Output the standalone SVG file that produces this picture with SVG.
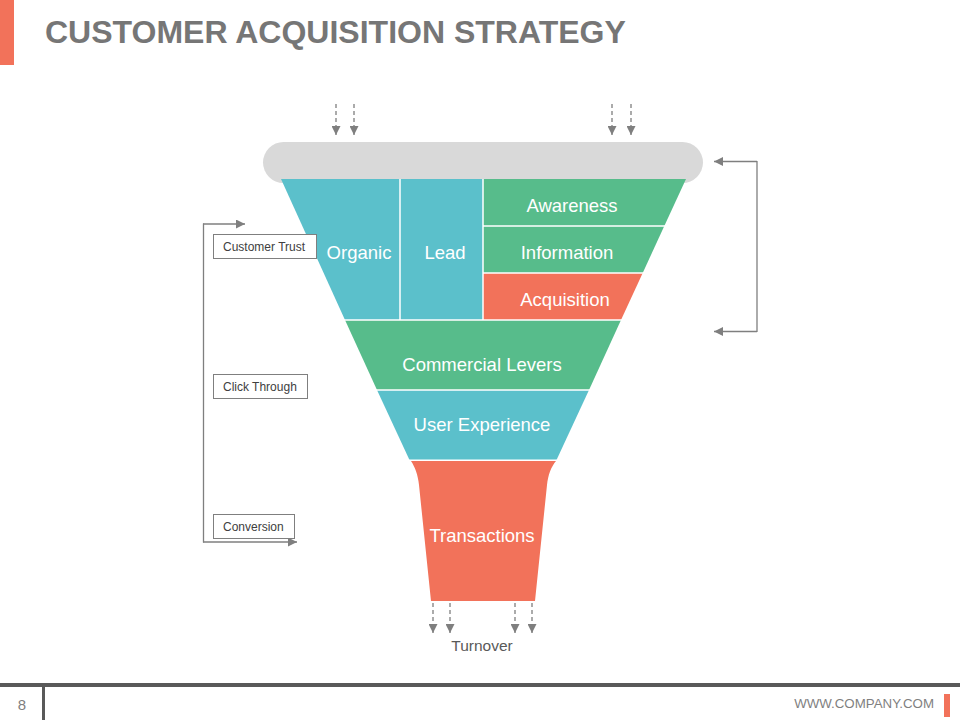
<svg xmlns="http://www.w3.org/2000/svg" width="960" height="720" viewBox="0 0 960 720">
<defs>
<style>
.seg{stroke:none}
.teal{fill:#5BC0CB}
.green{fill:#57BC8B}
.orange{fill:#F2725A}
.lbl{font-family:"Liberation Sans",Arial,sans-serif;font-size:18.5px;fill:#FFFFFF;text-anchor:middle}
.box{fill:#FFFFFF;stroke:#7F7F7F;stroke-width:1}
.boxt{font-family:"Liberation Sans",Arial,sans-serif;font-size:12px;fill:#404040}
.conn{fill:none;stroke:#7F7F7F;stroke-width:1.3}
.dash{stroke-dasharray:4 3}
.sep{stroke:#FFFFFF;stroke-width:1.5;fill:none}
</style>
<marker id="ah" viewBox="0 0 10 10" refX="10" refY="5" markerWidth="9" markerHeight="9" markerUnits="userSpaceOnUse" orient="auto">
<path d="M0,0 L10,5 L0,10 z" fill="#7F7F7F"/>
</marker>
</defs>
<rect width="960" height="720" fill="#FFFFFF"/>
<!-- header -->
<rect x="0" y="0" width="14" height="65" fill="#F2725A"/>
<text x="45" y="43" font-family="'Liberation Sans',Arial,sans-serif" font-size="32" font-weight="bold" fill="#767676">CUSTOMER ACQUISITION STRATEGY</text>
<!-- top bar -->
<g id="top-bar">
<rect x="263" y="142" width="440" height="41" rx="20.5" ry="20.5" fill="#D9D9D9"/>
</g>
<g id="organic">
<polygon class="seg teal" points="281,179 400,179 400,320 345,320"/>
<text class="lbl" x="359" y="258.5">Organic</text>
</g>
<g id="lead">
<polygon class="seg teal" points="400,179 483,179 483,320 400,320"/>
<text class="lbl" x="445" y="258.5">Lead</text>
</g>
<g id="awareness">
<polygon class="seg green" points="483,179 686,179 664.3,226 483,226"/>
<text class="lbl" x="572" y="211.5">Awareness</text>
</g>
<g id="information">
<polygon class="seg green" points="483,226 664.3,226 642.7,273 483,273"/>
<text class="lbl" x="567" y="258.5">Information</text>
</g>
<g id="acquisition">
<polygon class="seg orange" points="483,273 642.7,273 621,320 483,320"/>
<text class="lbl" x="565" y="305.5">Acquisition</text>
</g>
<g id="commercial-levers">
<polygon class="seg green" points="345,320 621,320 589,390 377,390"/>
<text class="lbl" x="482" y="370.5">Commercial Levers</text>
</g>
<g id="user-experience">
<polygon class="seg teal" points="377,390 589,390 556.5,460 409.5,460"/>
<text class="lbl" x="482" y="430.5">User Experience</text>
</g>
<g id="transactions">
<path class="seg orange" d="M411,461 L556,461 C551,467 548,475 547,485 L535,601 L431,601 L419,485 C418,475 415,467 411,461 Z"/>
<text class="lbl" x="482" y="541.5">Transactions</text>
</g>
<g id="separators">
<line class="sep" x1="400" y1="179" x2="400" y2="320"/>
<line class="sep" x1="483" y1="179" x2="483" y2="320"/>
<line class="sep" x1="483" y1="226" x2="666" y2="226"/>
<line class="sep" x1="483" y1="273" x2="645" y2="273"/>
<line class="sep" x1="343" y1="320" x2="623" y2="320"/>
<line class="sep" x1="375" y1="390" x2="591" y2="390"/>
<line class="sep" x1="408" y1="460.2" x2="558" y2="460.2"/>
</g>
<g id="customer-trust">
<rect class="box" x="213.5" y="234.5" width="103" height="24"/>
<text class="boxt" x="223" y="251">Customer Trust</text>
</g>
<g id="click-through">
<rect class="box" x="213.5" y="374.5" width="94" height="24"/>
<text class="boxt" x="223" y="391">Click Through</text>
</g>
<g id="conversion">
<rect class="box" x="213.5" y="514.5" width="81" height="24"/>
<text class="boxt" x="223" y="531">Conversion</text>
</g>
<g id="turnover">
<text x="482" y="651" font-family="'Liberation Sans',Arial,sans-serif" font-size="15.5" fill="#595959" text-anchor="middle">Turnover</text>
</g>
<g id="connectors">
<line class="conn dash" x1="336" y1="104" x2="336" y2="135" marker-end="url(#ah)"/>
<line class="conn dash" x1="354" y1="104" x2="354" y2="135" marker-end="url(#ah)"/>
<line class="conn dash" x1="612" y1="104" x2="612" y2="135" marker-end="url(#ah)"/>
<line class="conn dash" x1="631" y1="104" x2="631" y2="135" marker-end="url(#ah)"/>
<line class="conn dash" x1="433" y1="603" x2="433" y2="633" marker-end="url(#ah)"/>
<line class="conn dash" x1="450" y1="603" x2="450" y2="633" marker-end="url(#ah)"/>
<line class="conn dash" x1="515" y1="603" x2="515" y2="633" marker-end="url(#ah)"/>
<line class="conn dash" x1="532" y1="603" x2="532" y2="633" marker-end="url(#ah)"/>
<polyline class="conn" points="757,161.5 714,161.5" marker-end="url(#ah)"/>
<line class="conn" x1="757" y1="161" x2="757" y2="332"/>
<polyline class="conn" points="757,331.5 714,331.5" marker-end="url(#ah)"/>
<line class="conn" x1="203.5" y1="223.5" x2="203.5" y2="542.5"/>
<polyline class="conn" points="203,224 245,224" marker-end="url(#ah)"/>
<polyline class="conn" points="203,542 297,542" marker-end="url(#ah)"/>
</g>
<!-- footer -->
<rect x="0" y="683" width="960" height="4" fill="#595959"/>
<rect x="42" y="686" width="3" height="34" fill="#595959"/>
<text x="22" y="710" font-family="'Liberation Sans',Arial,sans-serif" font-size="15" fill="#7F7F7F" text-anchor="middle">8</text>
<text x="934" y="708" font-family="'Liberation Sans',Arial,sans-serif" font-size="13.3" fill="#7F7F7F" text-anchor="end">WWW.COMPANY.COM</text>
<rect x="944" y="694" width="6" height="23" fill="#F2725A"/>
</svg>
